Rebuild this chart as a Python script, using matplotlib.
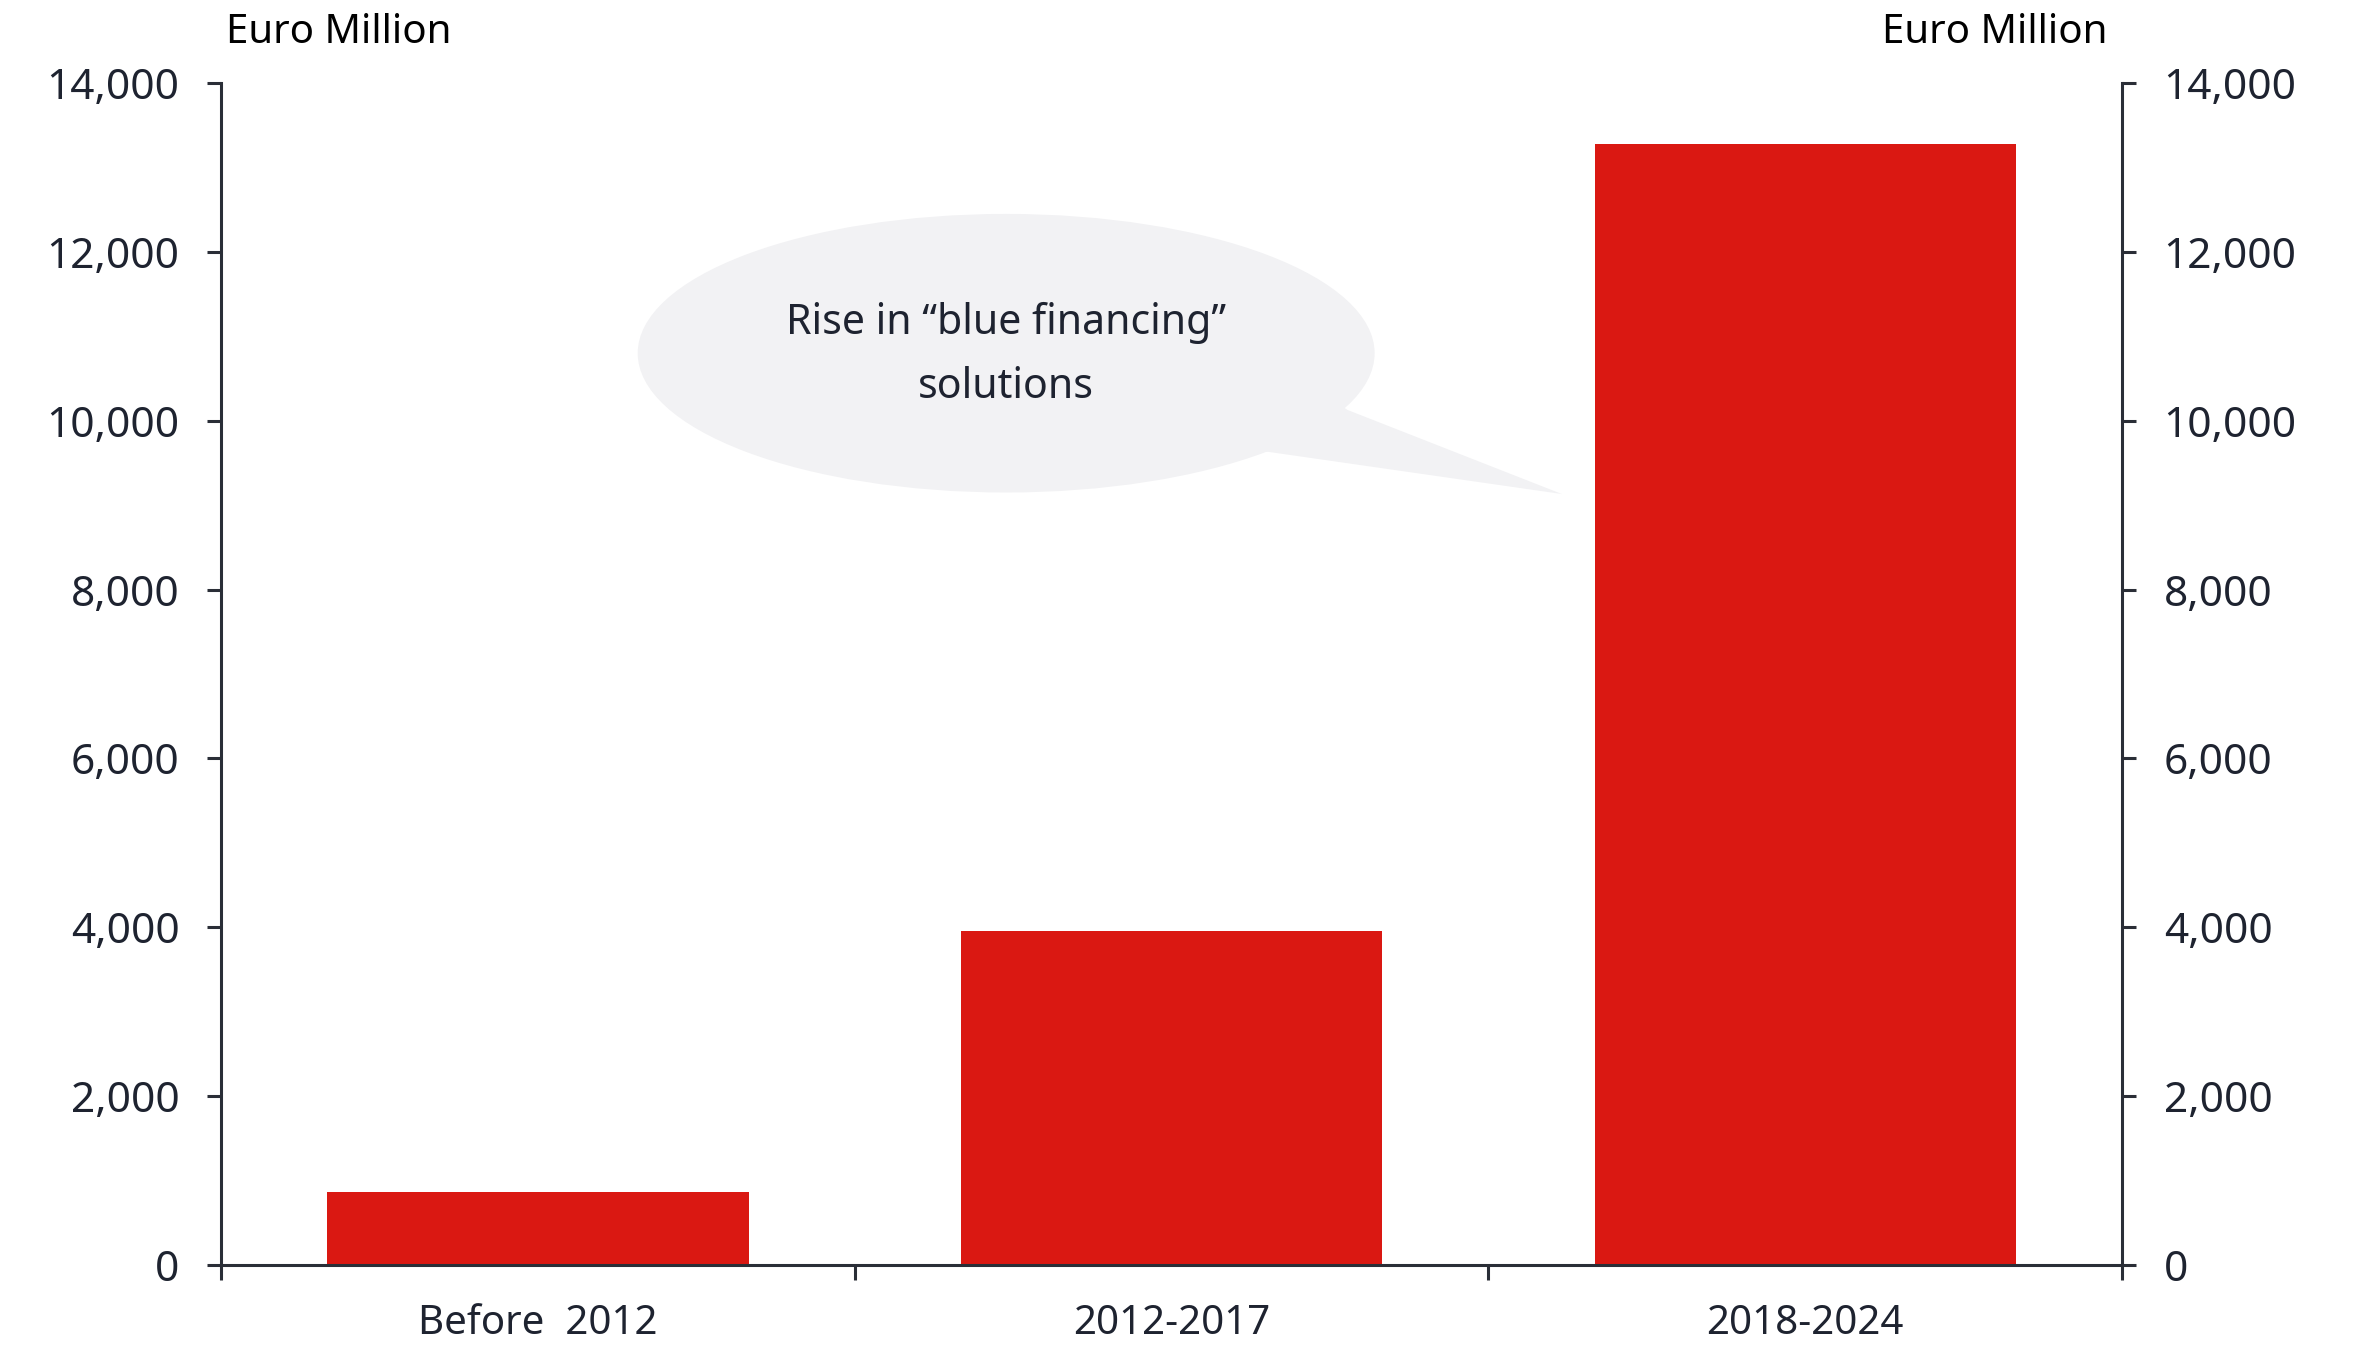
import numpy as np
import matplotlib.pyplot as plt
from matplotlib.patches import Ellipse, Polygon

categories = ["Before  2012", "2012-2017", "2018-2024"]
values = [860, 3960, 13280]
y_ticks = [0, 2000, 4000, 6000, 8000, 10000, 12000, 14000]
y_unit = "Euro Million"
callout = "Rise in \u201cblue financing\u201d\nsolutions"

bar_color = "#da1812"
ink = "#1e2330"
spine_color = "#2a2e37"
bubble_color = "#f2f2f4"

plt.rcParams["font.family"] = ["Noto Sans", "DejaVu Sans"]

fig = plt.figure(figsize=(23.62, 13.46), dpi=100)
ax = fig.add_axes([0.0936, 0.0602, 0.8048, 0.8781])

x = np.arange(len(categories))
ax.bar(x, values, width=0.665, color=bar_color, zorder=2)

ax.set_xlim(-0.5, len(categories) - 0.5)
ax.set_ylim(0, 14000)

# major ticks at category boundaries, labels on minor ticks at centres
ax.set_xticks(np.arange(-0.5, len(categories), 1.0))
ax.set_xticklabels([])
ax.set_xticks(x, minor=True)
ax.set_xticklabels(categories, minor=True)
ax.tick_params(axis="x", which="major", direction="out", length=11, width=2.2, color=spine_color)
ax.tick_params(axis="x", which="minor", length=0, pad=28, labelsize=29, labelcolor=ink)

ax.set_yticks(y_ticks)
ax.set_yticklabels([f"{v:,}" for v in y_ticks])
ax.tick_params(axis="y", direction="out", length=10, width=2.2, color=spine_color,
               pad=20, labelsize=30.5, labelcolor=ink)

ax2 = ax.twinx()
ax2.set_ylim(ax.get_ylim())
ax2.set_yticks(y_ticks)
ax2.set_yticklabels([f"{v:,}" for v in y_ticks])
ax2.tick_params(axis="y", direction="out", length=10, width=2.2, color=spine_color,
                pad=20, labelsize=30.5, labelcolor=ink)

for a in (ax, ax2):
    a.spines["top"].set_visible(False)
    for s in ("left", "right", "bottom"):
        a.spines[s].set_color(spine_color)
        a.spines[s].set_linewidth(2.2)
ax.spines["right"].set_visible(False)
ax2.spines["left"].set_visible(False)
ax2.spines["bottom"].set_visible(False)

# speech bubble
bubble = Ellipse((0.739, 10800), 1.163, 3300, facecolor=bubble_color, edgecolor="none", zorder=3)
tail = Polygon([(1.20, 10500), (1.278, 10127), (1.616, 9132), (1.155, 9629), (1.0, 9800)],
               closed=True, facecolor=bubble_color, edgecolor="none", zorder=3)
ax.add_patch(bubble)
ax.add_patch(tail)
ax.text(0.739, 10780, callout, ha="center", va="center", fontsize=29.5, color=ink,
        linespacing=1.7, zorder=4)

fig.text(226 / 2362, 1 - 33 / 1346, y_unit, ha="left", va="center", fontsize=29, color="black")
fig.text(2108 / 2362, 1 - 33 / 1346, y_unit, ha="right", va="center", fontsize=29, color="black")

fig.savefig("out.png", dpi=100, facecolor="white")
